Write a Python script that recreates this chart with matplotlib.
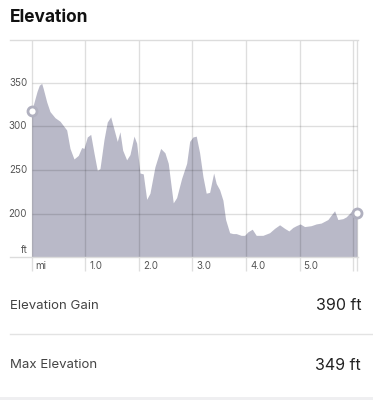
import matplotlib
matplotlib.use("Agg")
import matplotlib.pyplot as plt
import matplotlib.transforms as mtransforms

# ---- data ----
miles = [0.000, 0.100, 0.142, 0.187, 0.216, 0.280, 0.341, 0.435, 0.528, 0.653, 0.715,
         0.789, 0.869, 0.933, 0.976, 1.037, 1.101, 1.162, 1.224, 1.274, 1.349,
         1.410, 1.474, 1.522, 1.597, 1.647, 1.698, 1.772, 1.834, 1.909, 1.959,
         2.021, 2.082, 2.146, 2.207, 2.300, 2.407, 2.487, 2.549, 2.642, 2.705,
         2.799, 2.892, 2.948, 3.009, 3.071, 3.134, 3.196, 3.257, 3.321, 3.396,
         3.444, 3.507, 3.569, 3.619, 3.694, 3.755, 3.817, 3.910, 3.974, 4.035,
         4.116, 4.190, 4.315, 4.440, 4.534, 4.627, 4.720, 4.800, 4.875, 4.937,
         5.011, 5.093, 5.216, 5.310, 5.403, 5.528, 5.590, 5.653, 5.714, 5.808,
         5.869, 5.933, 5.994, 6.069]
elev_ft = [318, 340, 347, 349, 343, 328, 317, 310, 306, 296, 275,
           263, 267, 276, 275, 288, 291, 270, 250, 252, 285,
           305, 311, 300, 283, 294, 273, 262, 268, 289, 281,
           247, 246, 217, 224, 254, 275, 270, 258, 213, 219,
           241, 258, 283, 288, 289, 270, 243, 224, 225, 247,
           235, 228, 216, 194, 179, 178, 178, 176, 176, 180,
           183, 176, 176, 179, 184, 188, 184, 181, 185, 187,
           189, 186, 187, 189, 190, 194, 199, 204, 194, 195,
           197, 201, 205, 202]
x_ticks = [0, 1, 2, 3, 4, 5, 6]
x_tick_labels = ["mi", "1.0", "2.0", "3.0", "4.0", "5.0", ""]
y_ticks = [200, 250, 300, 350]
y_tick_labels = ["200", "250", "300", "350"]
title = "Elevation"
stats_labels = ["Elevation Gain", "Max Elevation"]
stats_values = ["390 ft", "349 ft"]

FILL = "#b9b9c8"
GRID_LIGHT = (0, 0, 0, 0.13)

plt.rcParams['font.family'] = ['Inter', 'DejaVu Sans']

W, H = 373, 400
fig = plt.figure(figsize=(W / 100, H / 100), dpi=100)

# axes placement in pixels
ax_l, ax_r, ax_t, ax_b = 10, 358, 40, 257.3
ax = fig.add_axes([ax_l / W, 1 - ax_b / H, (ax_r - ax_l) / W, (ax_b - ax_t) / H])
ax.set_xlim(-0.405, 6.09)
ax.set_ylim(151, 398.5)

ax.fill_between(miles, elev_ft, 151, color=FILL, lw=0, zorder=1)

for s in ["left", "right"]:
    ax.spines[s].set_visible(False)
for s in ["top", "bottom"]:
    ax.spines[s].set_color("#dcdcdc")
    ax.spines[s].set_linewidth(1)
ax.set_xticks([])
ax.set_yticks([])

# horizontal grid lines
for yv in y_ticks:
    ax.plot([0, miles[-1]], [yv, yv], color=GRID_LIGHT, lw=1, zorder=2,
            solid_capstyle="butt")

# vertical grid lines extending below the axes
blend = mtransforms.blended_transform_factory(ax.transData, ax.transAxes)
for xv in x_ticks + [miles[-1]]:
    ax.plot([xv, xv], [1, -0.065], transform=blend, color=GRID_LIGHT, lw=1,
            zorder=2, clip_on=False, solid_capstyle="butt")

# x labels (right of the grid lines)
off_x = mtransforms.ScaledTranslation(4 / 100, 0, fig.dpi_scale_trans)
for xv, lab in zip(x_ticks, x_tick_labels):
    ax.text(xv, -0.04, lab, transform=blend + off_x, ha="left", va="center",
            fontsize=7, color="#555555")

# y labels (left of the zero-mile line)
off_y = mtransforms.ScaledTranslation(-4.5 / 100, 0, fig.dpi_scale_trans)
for yv, lab in zip(y_ticks, y_tick_labels):
    ax.text(0, yv, lab, transform=ax.transData + off_y, ha="right", va="center",
            fontsize=7, color="#555555")
ax.text(0, 159, "ft", transform=ax.transData + off_y, ha="right", va="center",
        fontsize=7, color="#555555")

# end markers
ax.plot([miles[0], miles[-1]], [elev_ft[0], elev_ft[-1]], "o", ms=6.5,
        mfc="white", mec="#b0b0bf", mew=2, zorder=4, clip_on=False)

# title
fig.text(10 / W, 1 - 17 / H, title, ha="left", va="center", fontsize=12.5,
         fontweight="bold", color="#111111")

# stats
rows_y = [306, 365]
for yy, lab, val in zip(rows_y, stats_labels, stats_values):
    fig.text(10 / W, 1 - yy / H, lab, ha="left", va="center", fontsize=9.5,
             color="#444444")
    fig.text(361 / W, 1 - yy / H, val, ha="right", va="center", fontsize=11.5,
             color="#222222")

# separator and bottom band
fig.add_artist(plt.Line2D([10 / W, 1], [1 - 334 / H, 1 - 334 / H],
                          transform=fig.transFigure, color="#e3e3e3", lw=1))
fig.add_artist(plt.Rectangle((0, 0), 1, 3 / H, transform=fig.transFigure,
                             color="#efeff1", lw=0))

fig.savefig("out.png", dpi=100)
